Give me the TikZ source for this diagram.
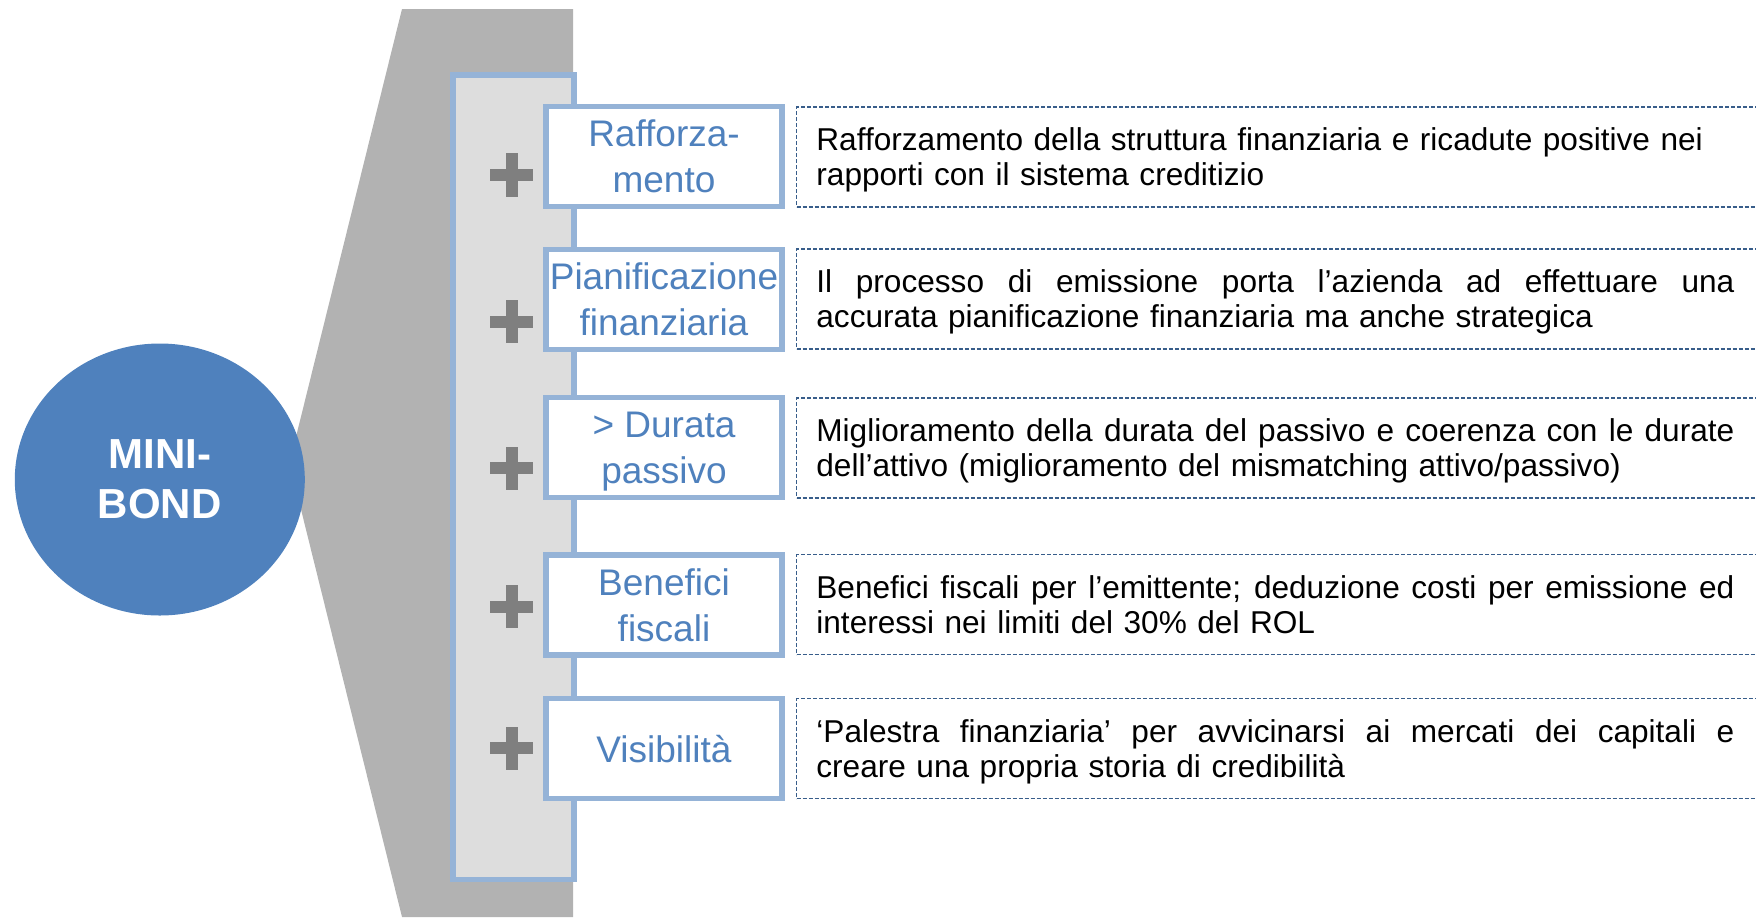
\documentclass[tikz,border=0pt]{standalone}
\usepackage{fontspec}
\setmainfont{Liberation Sans}
\usetikzlibrary{shapes.geometric}
\definecolor{circc}{RGB}{79,129,189}
\definecolor{boxtext}{RGB}{79,129,189}
\definecolor{bordc}{RGB}{149,179,215}
\definecolor{panelc}{RGB}{221,221,221}
\definecolor{trapc}{RGB}{178,178,178}
\definecolor{plusc}{RGB}{127,127,127}
\definecolor{dashc}{RGB}{56,93,138}
\newcommand\lastline[1]{\raisebox{0pt}[\height][0pt]{#1}}
\newcommand\fullline[1]{{\spaceskip=0pt\relax\xspaceskip=0pt\relax\makebox[459pt][s]{#1}}}
\begin{document}
\begin{tikzpicture}[x=0.5pt,y=-0.5pt,
  featbox/.style={draw=bordc, line width=2.75pt, fill=white, minimum width=118pt,
    minimum height=50pt, inner sep=0pt, text=boxtext,
    font=\fontsize{18.5}{23}\selectfont, align=center},
  descbox/.style={draw=dashc, line width=0.6pt, dash pattern=on 2pt off 1pt,
    minimum width=490pt, minimum height=50pt, inner sep=0pt, anchor=west},
  desctext/.style={anchor=west, text width=459pt, inner sep=0pt, align=left,
    font=\fontsize{15.8}{17.5}\selectfont},
  mbstyle/.style={ellipse, fill=circc, minimum width=145pt, minimum height=136pt,
    inner sep=0pt, text=white, font=\fontsize{21}{25}\selectfont\bfseries, align=center}
]
\useasboundingbox (0,0) rectangle (1756,917);
% grey chevron band
\fill[trapc] (402,9) -- (573,9) -- (573,917) -- (402,917) -- (289.5,463) -- cycle;
% light panel
\filldraw[fill=panelc, draw=bordc, line width=2.75pt] (453,75) rectangle (574,879.5);
% circle
\node[mbstyle] (mb) at (159.8,479.5) {MINI-\\BOND};
% plus signs
\foreach \py in {175,321.7,468.3,606.7,748.3}{
  \fill[plusc] (490,\py-6) rectangle (533.4,\py+6);
  \fill[plusc] (506.3,\py-21.7) rectangle (517.7,\py+21.7);
}
% feature boxes
\node[featbox] (b1) at (664,156.7) {Rafforza-\\mento};
\node[featbox] (b2) at (664,299.5) {Pianificazione\\finanziaria};
\node[featbox] (b3) at (664,447.7) {> Durata\\\lastline{passivo}};
\node[featbox] (b4) at (664,604.8) {Benefici\\fiscali};
\node[featbox] (b5) at (664,748.6) {Visibilità};
% description boxes
\node[descbox] (d1) at (796,157) {};
\node[descbox] (d2) at (796,299) {};
\node[descbox] (d3) at (796,448) {};
\node[descbox] (d4) at (796,604.8) {};
\node[descbox] (d5) at (796,748.8) {};
\node[desctext] (t1) at (816,157) {Rafforzamento della struttura finanziaria e ricadute positive nei\\\lastline{rapporti con il sistema creditizio}};
\node[desctext] (t2) at (816,299) {\fullline{Il processo di emissione porta l’azienda ad effettuare una}\\\lastline{accurata pianificazione finanziaria ma anche strategica}};
\node[desctext] (t3) at (816,448) {\fullline{Miglioramento della durata del passivo e coerenza con le durate}\\\lastline{dell’attivo (miglioramento del mismatching attivo/passivo)}};
\node[desctext] (t4) at (816,604.8) {\fullline{Benefici fiscali per l’emittente; deduzione costi per emissione ed}\\\lastline{interessi nei limiti del 30\% del ROL}};
\node[desctext] (t5) at (816,748.8) {\fullline{‘Palestra finanziaria’ per avvicinarsi ai mercati dei capitali e}\\\lastline{creare una propria storia di credibilità}};
\end{tikzpicture}
\end{document}
